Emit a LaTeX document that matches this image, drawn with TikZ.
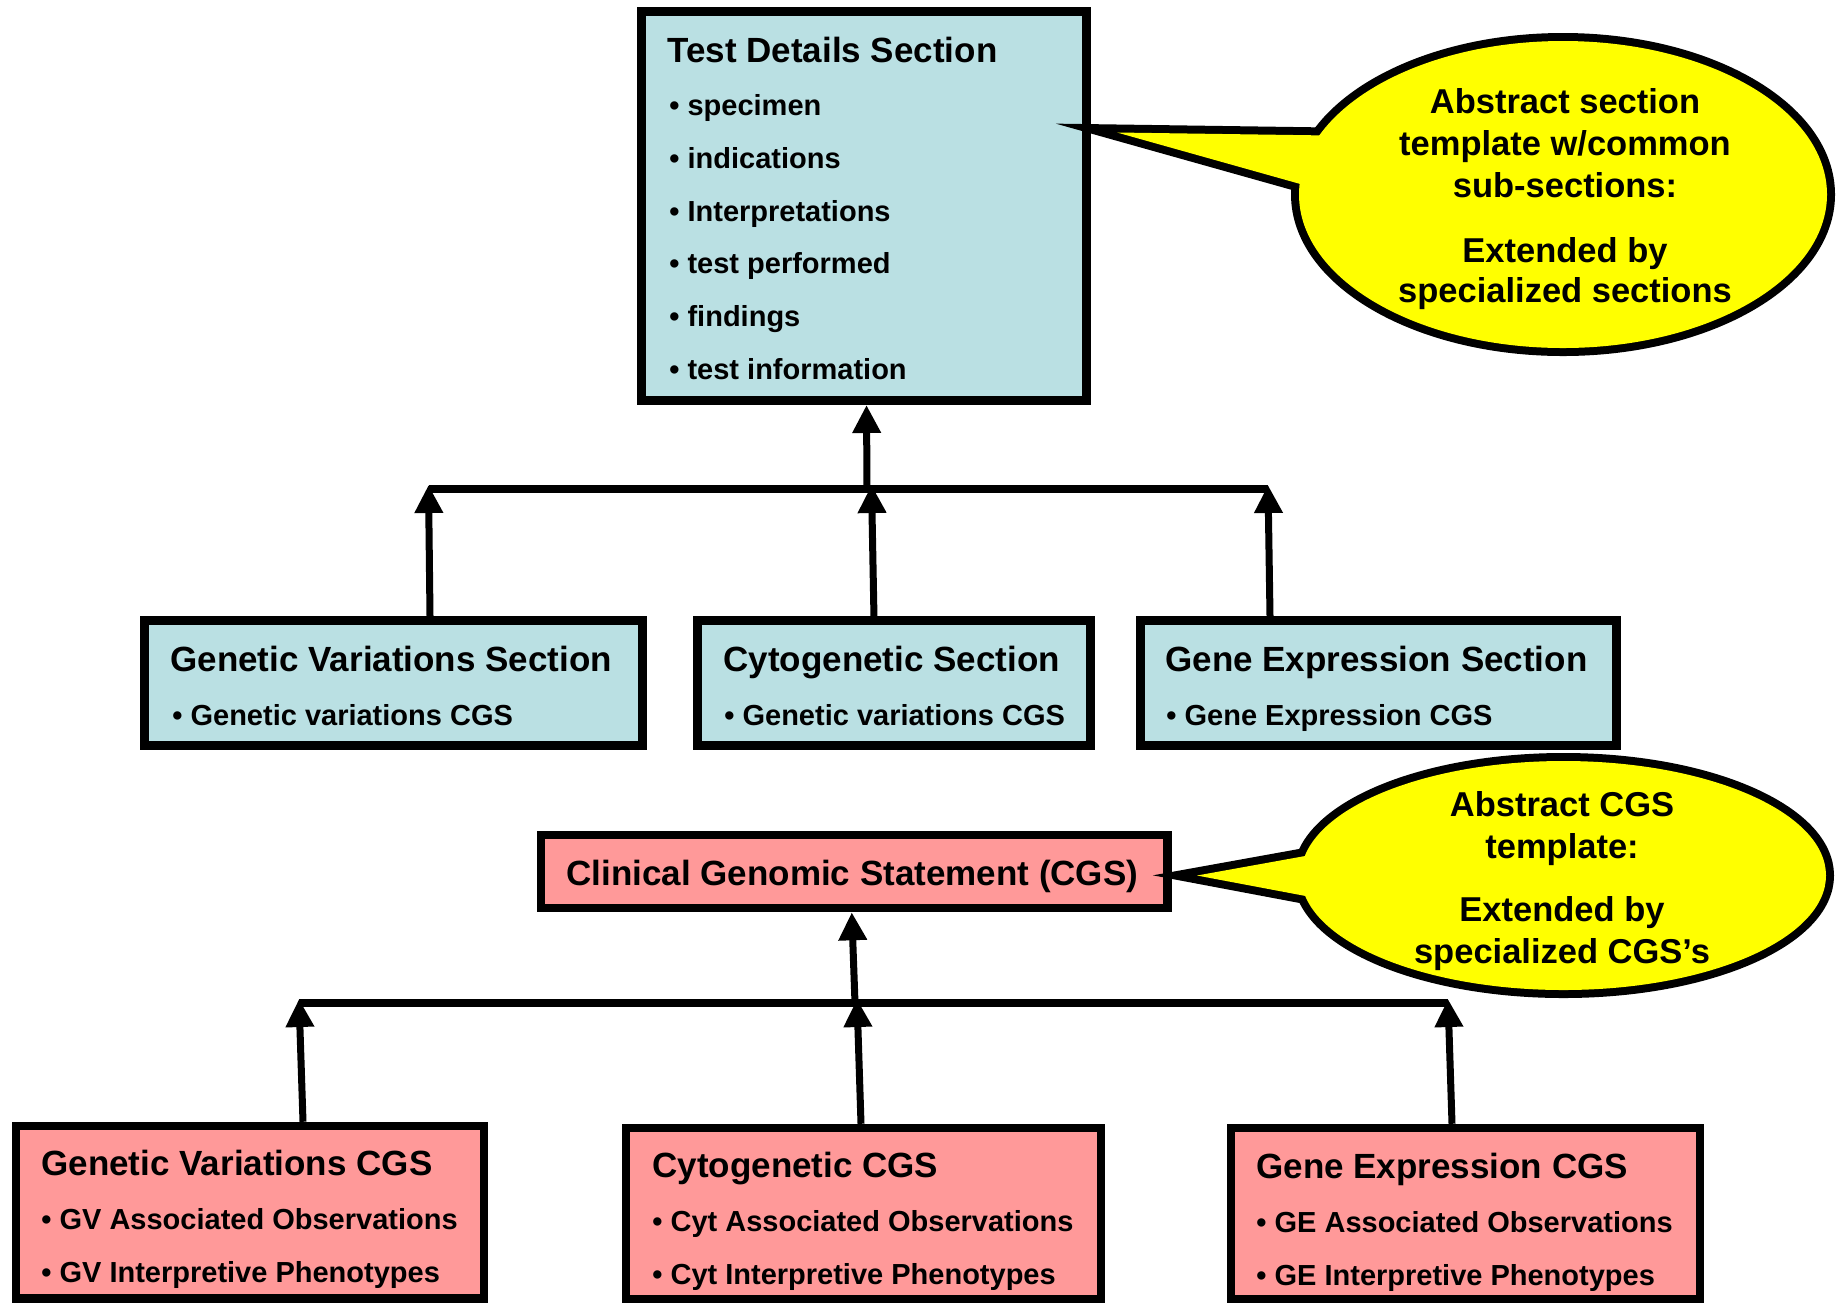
\documentclass[tikz,border=0pt]{standalone}
\usepackage{fontspec}
\setmainfont{Liberation Sans}
\usetikzlibrary{arrows.meta,fit}
\definecolor{boxblue}{RGB}{186,224,227}
\definecolor{boxpink}{RGB}{255,153,153}
\definecolor{callyellow}{RGB}{255,255,0}
\begin{document}
\begin{tikzpicture}[x=0.5pt,y=-0.5pt,
  bluebox/.style={draw=black, fill=boxblue, line width=4.5pt, inner sep=0pt, rectangle},
  pinkbox/.style={draw=black, fill=boxpink, line width=4.25pt, inner sep=0pt, rectangle},
  ttl/.style={anchor=base west, inner sep=0pt, font=\fontsize{17.5pt}{20pt}\selectfont\bfseries},
  itm/.style={anchor=base west, inner sep=0pt, font=\fontsize{14.5pt}{17pt}\selectfont\bfseries},
  ctxt/.style={anchor=base, inner sep=0pt, font=\fontsize{17.25pt}{20pt}\selectfont\bfseries},
  barline/.style={line width=4pt},
  arr/.style={line width=3.5pt, -{Triangle[length=14pt,width=13.5pt]}},
  callstroke/.style={draw=black, line width=8pt, line join=miter},
]
\useasboundingbox (0,0) rectangle (1841,1303);

% ---------- Test Details Section ----------
\node[bluebox, fit={(641.5,11.5) (1086.5,400.5)}] (td) {};
\node[ttl] (tdt) at (667,62) {Test Details Section};
\node[itm] (td1) at (669,115) {• specimen};
\node[itm] (td2) at (669,168) {• indications};
\node[itm] (td3) at (669,221) {• Interpretations};
\node[itm] (td4) at (669,273) {• test performed};
\node[itm] (td5) at (669,326) {• findings};
\node[itm] (td6) at (669,379) {• test information};

% ---------- middle sections ----------
\node[bluebox, fit={(144.5,620.5) (642.5,745.5)}] (gvs) {};
\node[ttl] (gvst) at (170,671) {Genetic Variations Section};
\node[itm] (gvs1) at (172,725) {• Genetic variations CGS};

\node[bluebox, fit={(697,620.5) (1090.5,745.5)}] (cys) {};
\node[ttl] (cyst) at (723,671) {Cytogenetic Section};
\node[itm] (cys1) at (724,725) {• Genetic variations CGS};

\node[bluebox, fit={(1140,620.5) (1616,745.5)}] (ges) {};
\node[ttl] (gest) at (1165,671) {Gene Expression Section};
\node[itm] (ges1) at (1166,725) {• Gene Expression CGS};

% ---------- bracket 1 ----------
\coordinate (b1l) at (428.5,489);
\coordinate (b1r) at (1268,489);
\coordinate (b1m) at (867,489);
\coordinate (t1l) at (428.5,485);
\coordinate (t1m) at (871.5,485);
\coordinate (t1r) at (1268,485);
\draw[barline] (b1l) -- (b1r);
\draw[arr] ([xshift=18.25pt]gvs.north) -- (t1l);
\draw[arr] ([xshift=-9.9pt]cys.north) -- (t1m);
\draw[arr] ([xshift=-54pt]ges.north) -- (t1r);
\draw[arr] (b1m) -- ([xshift=1.25pt]td.south);

% ---------- CGS ----------
\node[pinkbox, fit={(541,835) (1167.5,908)}] (cgs) {};
\node[ttl] (cgst) at (566,885) {Clinical Genomic Statement (CGS)};

% ---------- bottom CGS boxes ----------
\node[pinkbox, fit={(16,1126) (484,1298.5)}] (gvc) {};
\node[ttl] (gvct) at (41,1175) {Genetic Variations CGS};
\node[itm] (gvc1) at (41,1229) {• GV Associated Observations};
\node[itm] (gvc2) at (41,1282) {• GV Interpretive Phenotypes};

\node[pinkbox, fit={(626,1128) (1101,1299)}] (cyc) {};
\node[ttl] (cyct) at (652,1177) {Cytogenetic CGS};
\node[itm] (cyc1) at (652,1231) {• Cyt Associated Observations};
\node[itm] (cyc2) at (652,1284) {• Cyt Interpretive Phenotypes};

\node[pinkbox, fit={(1231,1128) (1700,1299)}] (gec) {};
\node[ttl] (gect) at (1256,1178) {Gene Expression CGS};
\node[itm] (gec1) at (1256,1232) {• GE Associated Observations};
\node[itm] (gec2) at (1256,1285) {• GE Interpretive Phenotypes};

% ---------- bracket 2 ----------
\coordinate (b2l) at (299,1003);
\coordinate (b2r) at (1448,1003);
\coordinate (b2m) at (855,1003);
\coordinate (t2l) at (299,999);
\coordinate (t2m) at (857,999);
\coordinate (t2r) at (1448,999);
\draw[barline] (b2l) -- (b2r);
\draw[arr] ([xshift=26.5pt]gvc.north) -- (t2l);
\draw[arr] ([xshift=-1.25pt]cyc.north) -- (t2m);
\draw[arr] ([xshift=-6.75pt]gec.north) -- (t2r);
\draw[arr] (b2m) -- ([xshift=-1.25pt]cgs.south);

% ---------- callout 1 ----------
\coordinate (c1c) at (1563,194.5);
\coordinate (c1tip) at (1117,132.5);
\coordinate (c1a) at (1400,136.5);
\coordinate (c1b) at (1400,212);
\draw[callstroke] (c1c) ellipse[x radius=264, y radius=153.5];
\draw[callstroke] (c1a) -- (c1tip) -- (c1b) -- cycle;
\fill[callyellow] (c1c) ellipse[x radius=264, y radius=153.5];
\fill[callyellow] (c1a) -- (c1tip) -- (c1b) -- cycle;
\node[ctxt] (c1t1) at (1565,113) {Abstract section};
\node[ctxt] (c1t2) at (1565,155) {template w/common};
\node[ctxt] (c1t3) at (1565,197) {sub-sections:};
\node[ctxt] (c1t4) at (1565,262) {Extended by};
\node[ctxt] (c1t5) at (1565,302) {specialized sections};

% ---------- callout 2 ----------
\coordinate (c2c) at (1563.5,875.5);
\coordinate (c2tip) at (1197,875.5);
\coordinate (c2a) at (1380,842.5);
\coordinate (c2b) at (1380,910);
\draw[callstroke] (c2c) ellipse[x radius=262.5, y radius=114.5];
\draw[callstroke] (c2a) -- (c2tip) -- (c2b) -- cycle;
\fill[callyellow] (c2c) ellipse[x radius=262.5, y radius=114.5];
\fill[callyellow] (c2a) -- (c2tip) -- (c2b) -- cycle;
\node[ctxt] (c2t1) at (1562,816) {Abstract CGS};
\node[ctxt] (c2t2) at (1562,858) {template:};
\node[ctxt] (c2t3) at (1562,921) {Extended by};
\node[ctxt] (c2t4) at (1562,963) {specialized CGS’s};
\end{tikzpicture}
\end{document}
